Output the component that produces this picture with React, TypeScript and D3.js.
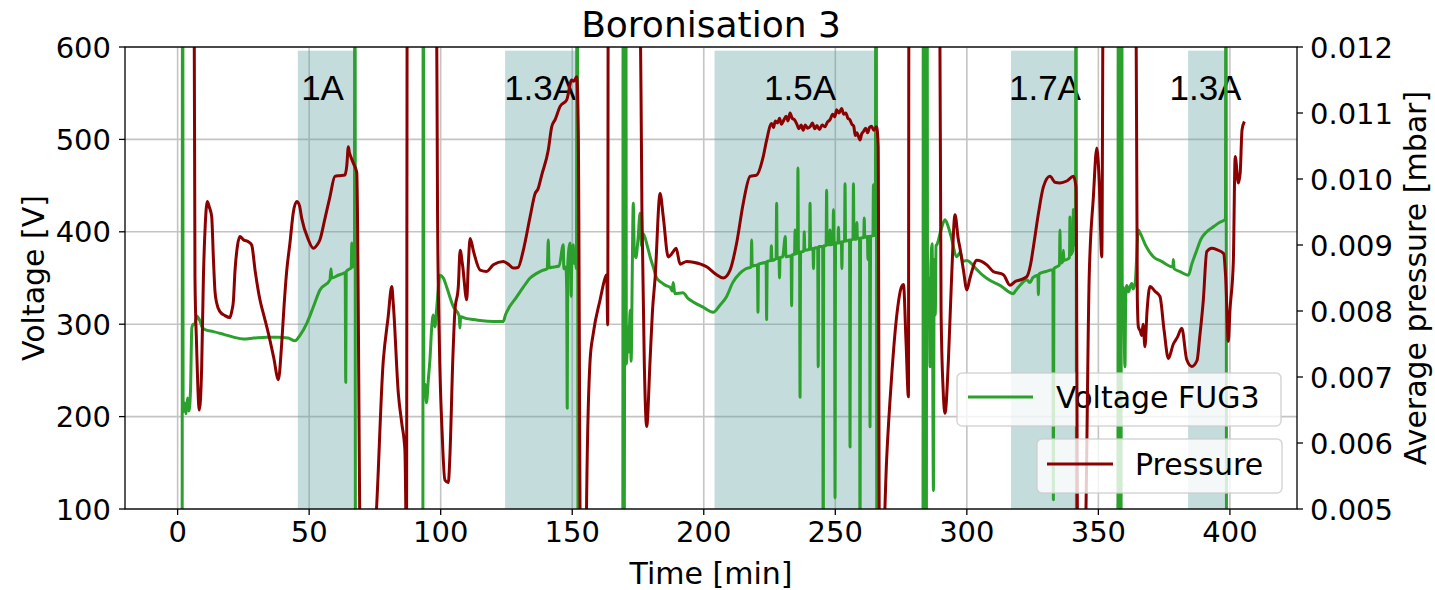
import React from "react";
import * as d3 from "d3";

// Time axis ticks [min], voltage ticks [V], pressure ticks [mbar]
const timeTicks = [0, 50, 100, 150, 200, 250, 300, 350, 400];
const voltageTicks = [100, 200, 300, 400, 500, 600];
const pressureTicks = [0.005, 0.006, 0.007, 0.008, 0.009, 0.01, 0.011, 0.012];

// Coil current phases: [start, end] in minutes, label, label centre
const phaseSpans: [number, number][] = [
  [45.7, 68.0],
  [124.5, 151.5],
  [204.1, 265.6],
  [316.8, 341.6],
  [384.1, 398.6],
];
const phaseLabels = ["1A", "1.3A", "1.5A", "1.7A", "1.3A"];
const phaseLabelTimes = [55.1, 137.8, 236.6, 329.7, 390.7];

// FUG3 voltage [min, V]
const voltageFUG3: [number, number][] = [
  [0, 0], [1.7, 0], [1.9, 1000], [2.1, 205], [2.6, 215], [3.2, 203], [3.8, 220], [4.3, 206], [4.9, 228],
  [5.4, 296], [5.9, 300], [6.5, 300], [7.3, 309], [8.4, 304], [9.3, 297], [10.4, 294], [13.6, 292],
  [17.5, 289], [21.2, 286], [25, 284], [29, 285], [33.9, 286], [38, 286], [42, 285], [44.6, 282],
  [46.5, 288], [49.1, 301], [51.5, 318], [54.1, 337], [57.9, 348], [58.3, 360], [58.6, 350], [61, 353],
  [63, 355], [63.7, 356], [63.9, 237], [64.1, 357], [65.5, 360], [66.0, 361], [66.2, 388], [66.4, 362],
  [67.2, 366], [67.4, 1000], [67.6, 0],
  [93.2, 0], [93.4, 1000], [93.6, 225], [94.05, 235], [94.6, 215], [95.3, 240], [95.9, 261], [96.6, 297],
  [97.2, 310], [97.8, 297], [98.5, 318], [99.7, 353], [101, 350], [102.3, 340], [104.8, 319], [107, 309],
  [107.3, 296], [107.6, 308], [109.9, 306], [112.4, 305], [115, 304], [120, 303], [123.8, 303],
  [124.6, 310], [126, 318], [128.5, 328], [131.4, 340], [134, 350], [136.5, 355], [138.5, 358],
  [140.5, 360], [140.9, 391], [141.2, 361], [143, 362], [145, 363], [146.6, 386], [146.8, 360],
  [147.6, 362], [147.9, 337], [148.1, 209], [148.3, 365], [149.2, 388], [149.4, 362], [149.6, 330],
  [149.8, 365], [150.4, 386], [150.6, 366], [151.2, 368], [151.6, 360], [151.9, 1000], [152.2, 0],
  [169.2, 0], [169.4, 1000], [169.7, 0], [170.3, 1000], [170.6, 257], [171.2, 297], [171.5, 270],
  [172, 315], [172.4, 260], [172.8, 351], [173.2, 431], [173.6, 380], [174.2, 372], [175, 392],
  [175.8, 420], [176.3, 385], [177, 398], [178.5, 385], [179.6, 373], [181, 360], [182.1, 350],
  [184, 345], [185.5, 342], [187.2, 340], [188, 336], [188.4, 345], [189, 333], [192.1, 334],
  [194, 328], [196, 324], [200, 318], [203.6, 313], [206, 320], [208.7, 330], [211, 345], [213.7, 355],
  [216, 360], [218, 362], [218.2, 391], [218.4, 363], [220.4, 364], [220.6, 313], [220.8, 365],
  [222, 366], [223.7, 367], [223.9, 305], [224.1, 368], [225.5, 369], [225.7, 385], [225.9, 369],
  [227.5, 371], [227.7, 431], [227.9, 371], [228.6, 372], [228.8, 350], [229, 372], [230, 373],
  [231, 395], [231.2, 373], [233.2, 374], [233.4, 320], [233.6, 375], [234.5, 376], [234.7, 402],
  [234.9, 376], [235.6, 377], [235.8, 469], [236, 377], [236.4, 378], [236.6, 221], [236.8, 378],
  [238, 379], [238.2, 400], [238.4, 380], [240.2, 381], [240.4, 431], [240.6, 381], [241.5, 382],
  [241.7, 360], [241.9, 382], [243.3, 383], [243.5, 254], [243.7, 384], [245.2, 384], [245.4, 0],
  [245.6, 385], [246.5, 385], [246.7, 445], [246.9, 386], [247.8, 386], [248, 402], [248.2, 386],
  [249.1, 387], [249.3, 424], [249.5, 387], [249.7, 387], [249.9, 112], [250.1, 388], [251, 388],
  [251.2, 405], [251.4, 388], [252.3, 389], [252.5, 360], [252.7, 389], [253.5, 390], [253.7, 452],
  [253.9, 390], [255.4, 391], [255.6, 167], [255.8, 391], [256.7, 392], [256.9, 452], [257.1, 392],
  [258, 392], [258.2, 410], [258.4, 393], [259.2, 393], [259.4, 0], [259.6, 393], [260.8, 394],
  [261, 415], [261.2, 394], [262.2, 395], [262.4, 370], [262.6, 395], [263, 395], [263.2, 189],
  [263.4, 395], [264.3, 396], [264.5, 451], [264.7, 396], [265.2, 397], [265.5, 1000], [265.8, 0],
  [283.3, 0], [283.5, 1000], [283.7, 0], [284.6, 0], [284.8, 1000], [285.1, 300], [285.6, 350],
  [286, 254], [286.3, 360], [286.8, 387], [287.3, 120], [287.6, 370], [288, 310], [288.3, 385],
  [288.6, 386], [290, 400], [291.7, 413], [293, 405], [294, 395], [296.2, 373], [297.5, 378],
  [298.5, 368], [300, 369], [303.8, 359], [306, 353], [308.4, 348], [312.6, 342], [317.7, 333],
  [318.5, 336], [320.5, 343], [322.8, 348], [324, 345], [325, 350], [326, 352], [327, 353],
  [327.2, 332], [327.4, 354], [327.8, 355], [330, 357], [332.7, 359], [332.9, 110], [333.1, 360],
  [334, 362], [335.2, 364], [335.4, 402], [335.6, 366], [336.5, 368], [336.7, 380], [336.9, 369],
  [338, 370], [339, 372], [339.2, 416], [339.4, 375], [340.3, 380], [340.5, 424], [340.7, 385],
  [341.3, 395], [341.5, 1000], [341.7, 0],
  [357.4, 0], [357.6, 1000], [357.8, 0], [358.6, 0], [358.8, 1000], [359.1, 310], [359.5, 340],
  [360.1, 254], [360.4, 330], [360.8, 342], [361.5, 335], [362, 340], [362.7, 344], [363.2, 338],
  [364, 345], [365.2, 402], [366, 398], [368, 385], [370.9, 373], [374, 368], [378.3, 362],
  [378.5, 370], [378.8, 360], [381, 357], [384.2, 353], [385.5, 365], [387.4, 380], [389, 392],
  [391.2, 400], [394, 406], [396, 410], [398, 413], [398.3, 414], [398.5, 1000], [398.7, 0],
];

// Average pressure [min, mbar]
const pressure: [number, number][] = [
  [0, 0.02], [6.2, 0.02], [6.3, 0.0125], [6.6, 0.0085], [7.2, 0.0075], [8.25, 0.0065], [9.15, 0.00716],
  [9.8, 0.0085], [10.5, 0.0093], [11.3, 0.00966], [12, 0.00958], [12.95, 0.00943], [13.6, 0.0088],
  [14.2, 0.0083], [14.85, 0.00812], [16.1, 0.00799], [18, 0.00793], [19.9, 0.0079], [20.6, 0.008],
  [21.2, 0.00815], [21.8, 0.0086], [22.8, 0.009], [23.7, 0.00913], [25, 0.00908], [26.9, 0.00905],
  [28.15, 0.009], [29.5, 0.0086], [31.3, 0.00817], [33, 0.0079], [34.5, 0.00766], [36.5, 0.0073],
  [38.3, 0.00696], [39.55, 0.0075], [40.5, 0.0081], [41.45, 0.0086], [42.7, 0.00903], [44, 0.0095],
  [45.3, 0.00966], [46.3, 0.0096], [47.2, 0.0094], [49.5, 0.0091], [51.6, 0.00895], [53, 0.009],
  [54.1, 0.00908], [56, 0.0094], [57.9, 0.00973], [59.8, 0.01004], [61.5, 0.01005], [63.6, 0.01006],
  [64.3, 0.0102], [64.9, 0.01049], [65.3, 0.0104], [65.8, 0.01034], [66.8, 0.01024], [68.1, 0.0101],
  [69.6, 0.004], [74.7, 0.0045], [78.2, 0.00726], [80, 0.0079], [81.4, 0.00837], [82, 0.0081],
  [83.9, 0.00675], [85.2, 0.0063], [86.4, 0.00589], [87.0, 0.0045], [87.3, 0.0135], [98.3, 0.0135],
  [98.8, 0.0095], [99.5, 0.0075], [100.5, 0.0062], [101.6, 0.00544], [102.9, 0.0054], [103.5, 0.0058],
  [104.6, 0.00726], [105.4, 0.008], [106.7, 0.00837], [107.4, 0.00892], [108.3, 0.0087],
  [109.9, 0.00817], [110.5, 0.0087], [111.2, 0.0091], [112.5, 0.0089], [115, 0.00862], [117.5, 0.0086],
  [120, 0.0087], [123.8, 0.00875], [126, 0.0087], [127.6, 0.00865], [129.4, 0.00866], [131.4, 0.00892],
  [134, 0.00943], [135.9, 0.00978], [137, 0.00985], [138.4, 0.01006], [140.9, 0.01044],
  [142.2, 0.01079], [143.5, 0.0109], [145.4, 0.0111], [147.9, 0.0112], [149.8, 0.0115],
  [150.6, 0.01148], [151.7, 0.01155], [152.3, 0.01074], [153.2, 0.004], [155.2, 0.004],
  [155.5, 0.00524], [156.8, 0.00726], [158, 0.00766], [160.6, 0.00817], [162.5, 0.0085],
  [163.1, 0.00855], [163.5, 0.00779], [163.7, 0.0135], [175.6, 0.0135], [176.5, 0.0095],
  [177.4, 0.0072], [178.3, 0.00625], [179.6, 0.00726], [180.5, 0.008], [181.5, 0.0085],
  [183.4, 0.00978], [184.6, 0.00943], [186.5, 0.00882], [187.5, 0.00885], [188.4, 0.0089],
  [189.5, 0.00895], [191, 0.00871], [193.5, 0.00875], [196, 0.00874], [201.1, 0.00867],
  [204.9, 0.00855], [207.4, 0.0085], [210, 0.00862], [212.5, 0.00903], [215, 0.00963],
  [217.6, 0.01004], [220.1, 0.01006], [222.6, 0.01034], [223.9, 0.01059], [225.8, 0.01084],
  [226.5, 0.01078], [227.2, 0.01088], [228, 0.01085], [228.8, 0.01092], [229.5, 0.01083],
  [230.5, 0.0109], [231.3, 0.01095], [232, 0.01088], [232.8, 0.011], [233.6, 0.01092],
  [234.4, 0.0109], [235.3, 0.01084], [236.2, 0.01076], [237, 0.01082], [237.8, 0.01074],
  [238.6, 0.01082], [239.5, 0.01077], [240.4, 0.01079], [241.3, 0.01085], [242.2, 0.01076],
  [243, 0.01081], [244, 0.01075], [245, 0.01082], [246, 0.01079], [247, 0.01086], [248, 0.0109],
  [249, 0.01098], [249.8, 0.01094], [250.5, 0.01105], [251.4, 0.011], [252.4, 0.01107],
  [253.2, 0.01098], [254, 0.011], [254.8, 0.01092], [255.5, 0.0109], [256.3, 0.01083], [257, 0.0108],
  [257.6, 0.01066], [258.2, 0.0107], [259.4, 0.01059], [260, 0.01068], [260.7, 0.01072],
  [261.5, 0.01077], [262.3, 0.0107], [263, 0.01078], [263.8, 0.0108], [264.6, 0.01074],
  [265.7, 0.01079], [266.3, 0.0105], [266.8, 0.004], [268, 0.0042], [269.5, 0.00574], [271.4, 0.007],
  [273.3, 0.00791], [275.2, 0.00837], [275.9, 0.0084], [276.9, 0.00752], [277.8, 0.0067],
  [278.0, 0.0135], [289.6, 0.0135], [290.2, 0.008], [291, 0.0068], [291.7, 0.00645], [293, 0.00726],
  [294.2, 0.0085], [295.5, 0.00946], [296.7, 0.0091], [297.4, 0.00895], [298.7, 0.00862],
  [300, 0.00832], [301.2, 0.0085], [303.8, 0.00877], [307.6, 0.0087], [310, 0.0086], [313.9, 0.00855],
  [316.4, 0.00839], [318.5, 0.00845], [320.2, 0.00847], [322.8, 0.00852], [324.2, 0.0087],
  [325.3, 0.00897], [327.3, 0.0095], [329.1, 0.00988], [331.6, 0.01004], [333.5, 0.00995],
  [335.4, 0.00994], [338, 0.00997], [340.5, 0.01004], [341.5, 0.00988], [342.2, 0.004],
  [344.8, 0.0042], [346.5, 0.0085], [348.1, 0.00973], [349.4, 0.01047], [350.3, 0.00999],
  [351.3, 0.00882], [351.9, 0.0135], [364.2, 0.0135], [364.8, 0.0082], [365.2, 0.00776],
  [365.9, 0.0077], [366.5, 0.00763], [367, 0.0078], [367.7, 0.00746], [368.5, 0.008], [369.6, 0.00837],
  [371.5, 0.0083], [373.4, 0.00822], [375, 0.0077], [376.6, 0.00728], [378.5, 0.0075], [380, 0.0076],
  [381.7, 0.00774], [383.6, 0.00726], [385.5, 0.00716], [387.5, 0.00725], [388.5, 0.0076],
  [389.9, 0.00817], [391.2, 0.0089], [393.1, 0.00895], [395, 0.00893], [397.6, 0.00887],
  [398.4, 0.0085], [399.4, 0.00754], [400, 0.008], [401.3, 0.00875], [402, 0.01034], [403.2, 0.00994],
  [403.9, 0.01009], [404.6, 0.01074], [405.5, 0.01087],
];

const W = 1435;
const H = 590;
const left = 125;
const right = 1297;
const top = 47;
const bottom = 509;

const GREEN = "#2ca02c";
const RED = "#8b0000";
const SANS = "'DejaVu Sans', sans-serif";

export default function App() {
  const x = d3.scaleLinear().domain([-20, 425.5]).range([left, right]);
  const yV = d3.scaleLinear().domain([100, 600]).range([bottom, top]);
  const yP = d3.scaleLinear().domain([0.005, 0.012]).range([bottom, top]);

  const voltageLine = d3
    .line<[number, number]>()
    .x((d) => x(d[0]))
    .y((d) => yV(d[1]))
    .curve(d3.curveMonotoneX);
  const pressureLine = d3
    .line<[number, number]>()
    .x((d) => x(d[0]))
    .y((d) => yP(d[1]))
    .curve(d3.curveMonotoneX);

  const spanTop = yV(596);

  return (
    <svg
      width={W}
      height={H}
      style={{ position: "absolute", left: 0, top: 0, background: "#fff" }}
      fontFamily={SANS}
    >
      <defs>
        <clipPath id="plot-area">
          <rect x={left} y={top} width={right - left} height={bottom - top} />
        </clipPath>
      </defs>

      {/* grid */}
      <g stroke="#c4c4c4" strokeWidth={1.6}>
        {timeTicks.map((t) => (
          <line key={"gx" + t} x1={x(t)} x2={x(t)} y1={top} y2={bottom} />
        ))}
        {voltageTicks.map((v) => (
          <line key={"gy" + v} x1={left} x2={right} y1={yV(v)} y2={yV(v)} />
        ))}
      </g>

      {/* current phases */}
      <g fill="#5f9ea0" fillOpacity={0.36}>
        {phaseSpans.map(([a, b], i) => (
          <rect key={"span" + i} x={x(a)} y={spanTop} width={x(b) - x(a)} height={bottom - spanTop} />
        ))}
      </g>
      <g fontFamily="'Liberation Sans', Arial, sans-serif" fontSize={35} textAnchor="middle" fill="#000">
        {phaseLabels.map((lab, i) => (
          <text key={"lab" + i} x={x(phaseLabelTimes[i])} y={yV(543)}>
            {lab}
          </text>
        ))}
      </g>

      {/* voltage */}
      <g clipPath="url(#plot-area)">
        <path d={voltageLine(voltageFUG3) || ""} fill="none" stroke={GREEN} strokeWidth={3} strokeLinejoin="round" />
      </g>

      {/* voltage legend */}
      <g>
        <rect x={957} y={373} width={324} height={53} rx={5} fill="#fff" fillOpacity={0.8} stroke="#cccccc" strokeOpacity={0.8} strokeWidth={1.5} />
        <line x1={968} x2={1033} y1={397} y2={397} stroke={GREEN} strokeWidth={3} />
        <text x={1056} y={408} fontSize={30} fill="#000">
          Voltage FUG3
        </text>
      </g>

      {/* pressure */}
      <g clipPath="url(#plot-area)">
        <path d={pressureLine(pressure) || ""} fill="none" stroke={RED} strokeWidth={3} strokeLinejoin="round" />
      </g>

      {/* pressure legend */}
      <g>
        <rect x={1037} y={439} width={245} height={54} rx={5} fill="#fff" fillOpacity={0.8} stroke="#cccccc" strokeOpacity={0.8} strokeWidth={1.5} />
        <line x1={1047} x2={1113} y1={464} y2={464} stroke={RED} strokeWidth={3} />
        <text x={1135} y={475} fontSize={30} fill="#000">
          Pressure
        </text>
      </g>

      {/* frame */}
      <rect x={left} y={top} width={right - left} height={bottom - top} fill="none" stroke="#000" strokeWidth={1.3} />

      {/* bottom axis */}
      <g fontSize={29} textAnchor="middle" fill="#000">
        {timeTicks.map((t) => (
          <g key={"bx" + t}>
            <line x1={x(t)} x2={x(t)} y1={bottom} y2={bottom + 6} stroke="#000" strokeWidth={1.3} />
            <text x={x(t)} y={bottom + 33}>
              {t}
            </text>
          </g>
        ))}
      </g>

      {/* left axis */}
      <g fontSize={29} textAnchor="end" fill="#000">
        {voltageTicks.map((v) => (
          <g key={"ly" + v}>
            <line x1={left - 6} x2={left} y1={yV(v)} y2={yV(v)} stroke="#000" strokeWidth={1.3} />
            <text x={left - 14} y={yV(v) + 10.5}>
              {v}
            </text>
          </g>
        ))}
      </g>

      {/* right axis */}
      <g fontSize={29} textAnchor="start" fill="#000">
        {pressureTicks.map((p) => (
          <g key={"ry" + p}>
            <line x1={right} x2={right + 6} y1={yP(p)} y2={yP(p)} stroke="#000" strokeWidth={1.3} />
            <text x={right + 13} y={yP(p) + 10.5}>
              {p.toFixed(3)}
            </text>
          </g>
        ))}
      </g>

      {/* axis titles */}
      <text x={(left + right) / 2} y={584} fontSize={30} textAnchor="middle" fill="#000">
        Time [min]
      </text>
      <text transform={`translate(44, ${(top + bottom) / 2}) rotate(-90)`} fontSize={30} textAnchor="middle" fill="#000">
        Voltage [V]
      </text>
      <text transform={`translate(1426, ${(top + bottom) / 2}) rotate(-90)`} fontSize={30} textAnchor="middle" fill="#000">
        Average pressure [mbar]
      </text>
      <text x={(left + right) / 2} y={37} fontSize={36} textAnchor="middle" fill="#000">
        Boronisation 3
      </text>
    </svg>
  );
}
